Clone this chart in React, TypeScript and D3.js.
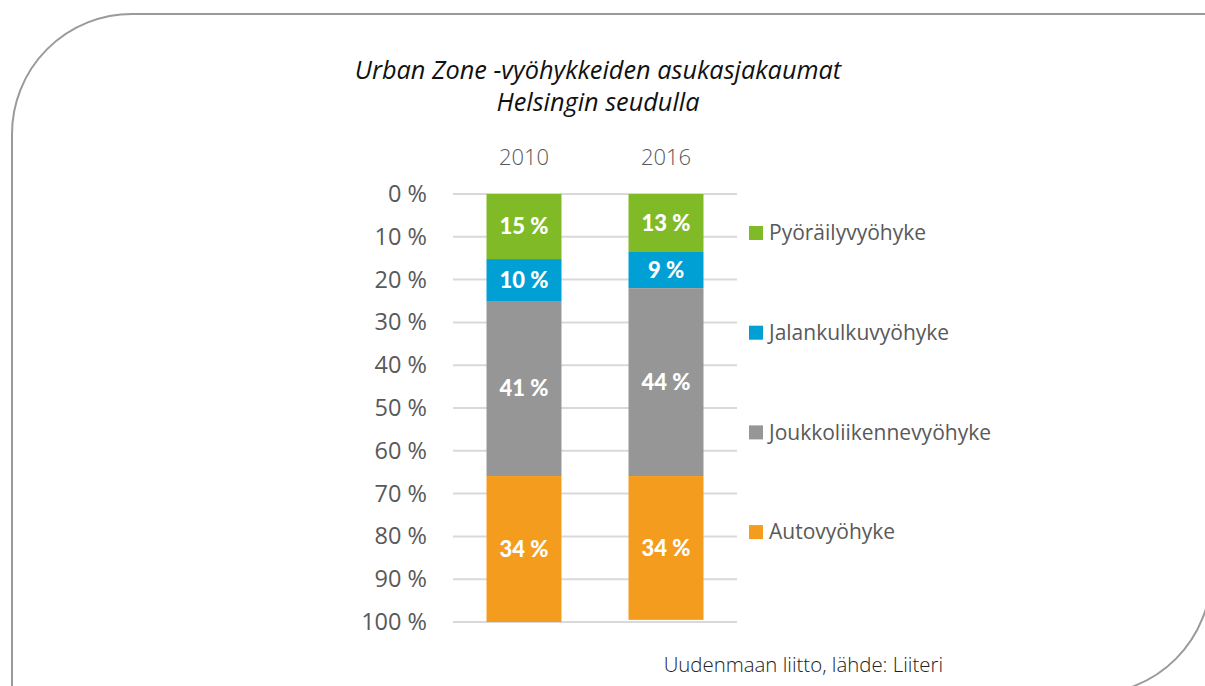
import React, { useEffect, useRef } from 'react';
import * as d3 from 'd3';

// Data
const years = ['2010', '2016'];
const zones = ['Pyöräilyvyöhyke', 'Jalankulkuvyöhyke', 'Joukkoliikennevyöhyke', 'Autovyöhyke'];
const zoneColors = ['#80ba27', '#00a0d4', '#969696', '#f39c1d'];
const share2010 = [15.2, 9.8, 40.9, 34.1];
const share2016 = [13.4, 8.6, 43.9, 33.6];
const yTicks = [0, 10, 20, 30, 40, 50, 60, 70, 80, 90, 100];
const titleLines = ['Urban Zone -vyöhykkeiden asukasjakaumat', 'Helsingin seudulla'];
const sourceText = 'Uudenmaan liitto, lähde: Liiteri';

const FONT = '"Open Sans", Lato, sans-serif';
const BOLD_FONT = 'Lato, "Open Sans", sans-serif';

export default function App() {
  const ref = useRef<SVGSVGElement>(null);

  useEffect(() => {
    if (!ref.current) return;
    document.body.style.margin = '0';
    const width = 1205;
    const height = 686;

    const svg = d3.select(ref.current);
    svg.selectAll('*').remove();
    svg.attr('width', width).attr('height', height);

    // frame: rounded top-left and bottom-right corners, rest runs off the page
    svg.append('path')
      .attr('d', 'M12,700 V134 A120,120 0 0 1 132,14 H1220 M1211,540 V574 A120,120 0 0 1 1091,694')
      .attr('fill', 'none')
      .attr('stroke', '#9a9a9a')
      .attr('stroke-width', 2);

    const x = d3.scaleBand<string>()
      .domain(years)
      .range([453, 737])
      .paddingInner(0.472)
      .paddingOuter(0.236);

    const y = d3.scaleLinear().domain([0, 100]).range([194, 622]);

    // gridlines
    svg.append('g')
      .selectAll('line')
      .data(yTicks)
      .enter()
      .append('line')
      .attr('x1', 453).attr('x2', 737)
      .attr('y1', d => y(d)).attr('y2', d => y(d))
      .attr('stroke', '#d9d9d9')
      .attr('stroke-width', 2);

    // y axis labels
    const yAxis = svg.append('g')
      .attr('transform', 'translate(427,0)')
      .call(d3.axisLeft(y).tickValues(yTicks).tickSize(0).tickPadding(0).tickFormat(d => `${d} %`));
    yAxis.select('.domain').remove();
    yAxis.selectAll('text')
      .attr('font-family', FONT)
      .attr('font-size', 23.5)
      .attr('fill', '#595959')
      .attr('dy', '0.32em');

    // year labels
    svg.append('g')
      .selectAll('text')
      .data(years)
      .enter()
      .append('text')
      .attr('x', d => (x(d) as number) + x.bandwidth() / 2)
      .attr('y', 165)
      .attr('text-anchor', 'middle')
      .attr('font-family', FONT)
      .attr('font-weight', 300)
      .attr('font-size', 22)
      .attr('fill', '#595959')
      .text(d => d);

    // stacked bars
    const rows = years.map((yr, i) => {
      const vals = i === 0 ? share2010 : share2016;
      const r: any = { year: yr };
      zones.forEach((z, j) => { r[z] = vals[j]; });
      return r;
    });
    const series = d3.stack<any>().keys(zones)(rows);

    const groups = svg.append('g')
      .selectAll('g')
      .data(series)
      .enter()
      .append('g')
      .attr('fill', (_, i) => zoneColors[i]);

    groups.selectAll('rect')
      .data(d => d)
      .enter()
      .append('rect')
      .attr('x', d => x(d.data.year) as number)
      .attr('width', x.bandwidth())
      .attr('y', d => y(d[0]))
      .attr('height', d => y(d[1]) - y(d[0]));

    groups.selectAll('text')
      .data(d => d)
      .enter()
      .append('text')
      .attr('x', d => (x(d.data.year) as number) + x.bandwidth() / 2)
      .attr('y', d => (y(d[0]) + y(d[1])) / 2)
      .attr('dy', '0.36em')
      .attr('text-anchor', 'middle')
      .attr('font-family', BOLD_FONT)
      .attr('font-weight', 900)
      .attr('font-size', 22)
      .attr('fill', '#ffffff')
      .text(d => `${Math.round(d[1] - d[0])} %`);

    // legend
    const legend = svg.append('g')
      .selectAll('g')
      .data(zones)
      .enter()
      .append('g')
      .attr('transform', (_, i) => `translate(749,${233 + i * 99.7})`);
    legend.append('rect')
      .attr('x', 0).attr('y', -7)
      .attr('width', 14).attr('height', 14)
      .attr('fill', (_, i) => zoneColors[i]);
    legend.append('text')
      .attr('x', 20).attr('y', 0)
      .attr('dy', '0.35em')
      .attr('font-family', FONT)
      .attr('font-size', 21)
      .attr('fill', '#595959')
      .text(d => d);

    // title
    svg.append('g')
      .selectAll('text')
      .data(titleLines)
      .enter()
      .append('text')
      .attr('x', 598)
      .attr('y', (_, i) => 79 + i * 32)
      .attr('text-anchor', 'middle')
      .attr('font-family', FONT)
      .attr('font-style', 'italic')
      .attr('font-size', 25.3)
      .attr('fill', '#111111')
      .text(d => d);

    // source
    svg.append('text')
      .attr('x', 943)
      .attr('y', 672)
      .attr('text-anchor', 'end')
      .attr('font-family', FONT)
      .attr('font-weight', 300)
      .attr('font-size', 20.4)
      .attr('fill', '#222222')
      .text(sourceText);
  }, []);

  return <svg ref={ref} style={{ display: 'block' }} />;
}
